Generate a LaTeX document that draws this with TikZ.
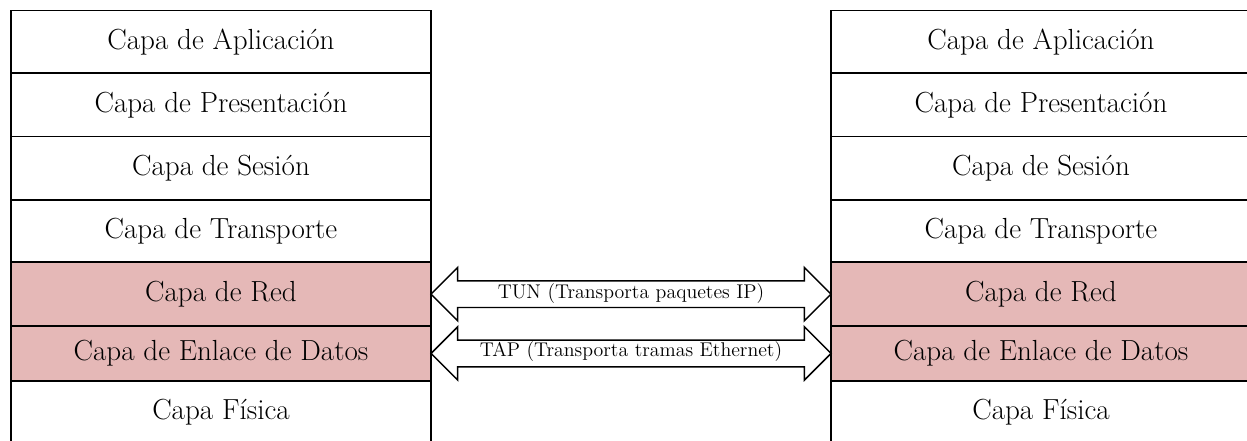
\documentclass[tikz,border=0pt]{standalone}
\usepackage{fontspec}
\usetikzlibrary{calc}
\definecolor{netpink}{RGB}{229,184,183}
\tikzset{
  layer/.style={fill=white, rectangle, anchor=north,
    minimum width=315pt, inner sep=0pt, outer sep=0pt,
    font=\fontsize{21.8}{26}\selectfont},
  hot/.style={fill=netpink},
  frame/.style={draw=black, line width=1.2pt},
  arrowbody/.style={draw=black, line width=1.1pt, fill=white, line join=miter},
  arrowlabel/.style={inner sep=0pt, font=\fontsize{14.9}{17}\selectfont}
}
\begin{document}
\begin{tikzpicture}[x=0.75pt, y=-0.75pt]
\useasboundingbox (0,0) rectangle (1247,441);
\clip (0,0) rectangle (1247,441);
\fill[white] (0,0) rectangle (1247,441);

% left protocol stack
\node[layer, minimum height=47.0pt] (L1) at (221,10.7)  {Capa de Aplicación};
\node[layer, minimum height=47.5pt] (L2) at (221,73.3)  {Capa de Presentación};
\node[layer, minimum height=47.5pt] (L3) at (221,136.7) {Capa de Sesión};
\node[layer, minimum height=46.7pt] (L4) at (221,200)   {Capa de Transporte};
\node[layer, hot, minimum height=47.8pt] (L5) at (221,262.3) {Capa de Red};
\node[layer, hot, minimum height=41.2pt] (L6) at (221,326)   {Capa de Enlace de Datos};
\node[layer, minimum height=46.5pt] (L7) at (221,381)   {Capa Física};

% right protocol stack
\node[layer, minimum height=47.0pt] (R1) at (1041,10.7)  {Capa de Aplicación};
\node[layer, minimum height=47.5pt] (R2) at (1041,73.3)  {Capa de Presentación};
\node[layer, minimum height=47.5pt] (R3) at (1041,136.7) {Capa de Sesión};
\node[layer, minimum height=46.7pt] (R4) at (1041,200)   {Capa de Transporte};
\node[layer, hot, minimum height=47.8pt] (R5) at (1041,262.3) {Capa de Red};
\node[layer, hot, minimum height=41.2pt] (R6) at (1041,326)   {Capa de Enlace de Datos};
\node[layer, minimum height=46.5pt] (R7) at (1041,381)   {Capa Física};

% cell borders, drawn over all fills so shared edges keep full width
\foreach \n in {L1,L2,L3,L4,L5,L6,L7,R1,R2,R3,R4,R5,R6,R7}
  \draw[frame] (\n.north west) rectangle (\n.south east);

% double-headed tunnel arrows between the network and data link layers
\foreach \a/\b in {L5/R5, L6/R6} {
  \draw[arrowbody] (\a.east) -- ++(26.7,-26.7) -- ++(0,13.35)
    -- ($(\b.west)+(-26.7,-13.35)$) -- ++(0,-13.35) -- (\b.west)
    -- ++(-26.7,26.7) -- ++(0,-13.35)
    -- ($(\a.east)+(26.7,13.35)$) -- ++(0,13.35) -- cycle;
}
\node[arrowlabel] (tun) at ($(L5.east)!0.5!(R5.west)+(0,-0.8)$) {TUN (Transporta paquetes IP)};
\node[arrowlabel] (tap) at ($(L6.east)!0.5!(R6.west)+(0,-2.0)$) {TAP (Transporta tramas Ethernet)};
\end{tikzpicture}
\end{document}
